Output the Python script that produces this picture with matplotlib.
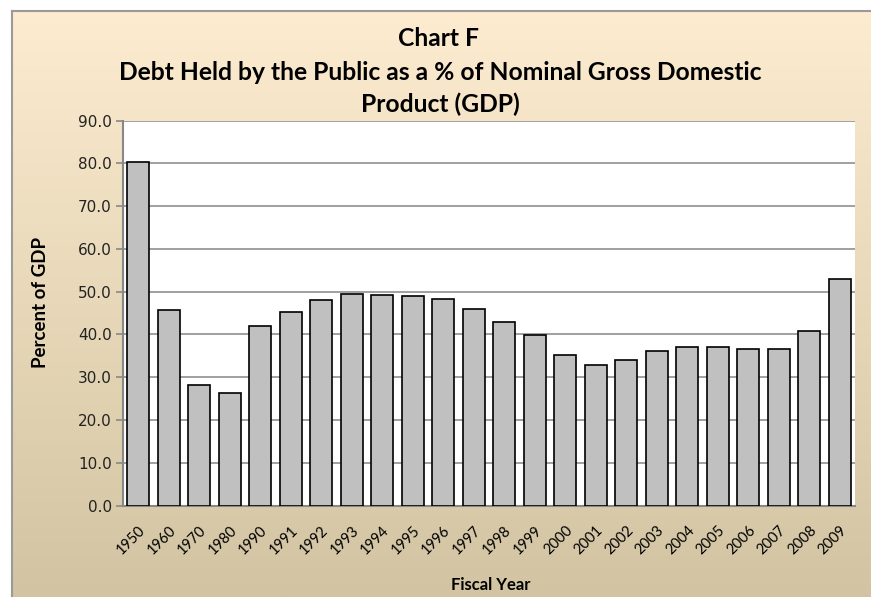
import numpy as np
import matplotlib
matplotlib.use("Agg")
import matplotlib.pyplot as plt
from matplotlib import font_manager

years = ["1950", "1960", "1970", "1980", "1990", "1991", "1992", "1993", "1994",
         "1995", "1996", "1997", "1998", "1999", "2000", "2001", "2002", "2003",
         "2004", "2005", "2006", "2007", "2008", "2009"]
debt_pct = [80.4, 45.7, 28.2, 26.2, 41.9, 45.3, 48.1, 49.5, 49.3,
            49.0, 48.3, 46.0, 43.0, 39.9, 35.1, 32.8, 34.1, 36.2,
            37.1, 37.1, 36.6, 36.6, 40.8, 53.0]
yticks = [0, 10, 20, 30, 40, 50, 60, 70, 80, 90]

names = {f.name for f in font_manager.fontManager.ttflist}
narrow = "Liberation Sans Narrow" if "Liberation Sans Narrow" in names else "Lato"

W, H = 871, 597
fig = plt.figure(figsize=(W / 100, H / 100), dpi=100)
fig.patch.set_facecolor("white")

# gradient chart-area background
bg = fig.add_axes([12 / W, 0, 1 - 12 / W, 1 - 11 / H], zorder=-10)
top_c = np.array([253, 236, 208]) / 255
bot_c = np.array([210, 196, 162]) / 255
t = np.linspace(0, 1, 256)[:, None]
grad = top_c * (1 - t[..., None]) + bot_c * t[..., None]
bg.imshow(grad, aspect="auto", extent=[0, 1, 0, 1])
bg.set_xlim(0, 1); bg.set_ylim(0, 1)
bg.set_xticks([]); bg.set_yticks([])
for s in ["top", "left"]:
    bg.spines[s].set_color("#9a9a9a"); bg.spines[s].set_linewidth(1.5)
for s in ["bottom", "right"]:
    bg.spines[s].set_visible(False)

ax = fig.add_axes([123 / W, 1 - 505.5 / H, (855 - 123) / W, (505.5 - 120.7) / H])
ax.set_facecolor("white")
x = np.arange(len(years))
ax.bar(x, debt_pct, width=0.71, color="#c0c0c0", edgecolor="black", linewidth=1.2, zorder=3)
ax.set_xlim(-0.5, len(years) - 0.5)
ax.set_ylim(0, 90)
ax.set_yticks(yticks)
ax.set_yticklabels([f"{v:.1f}" for v in yticks], fontsize=11, color="#222222", family="DejaVu Sans")
ax.yaxis.grid(True, color="#999999", linewidth=1.3, zorder=0)
ax.set_axisbelow(True)
ax.tick_params(axis="y", length=5, color="#888888", width=1.2, pad=3)
ax.set_xticks(x)
ax.set_xticklabels(years, rotation=45, ha="right", va="top", rotation_mode="anchor",
                   fontsize=10.5, family=narrow)
ax.tick_params(axis="x", length=0, pad=13)
for s in ["top", "right"]:
    ax.spines[s].set_visible(False)
ax.spines["left"].set_color("#888888"); ax.spines["left"].set_linewidth(1.5)
ax.spines["bottom"].set_color("#888888"); ax.spines["bottom"].set_linewidth(1.5)

fig.text(40 / W, 1 - 303 / H, "Percent of GDP", rotation=90, ha="center", va="center",
         fontsize=13.5, fontweight="bold", family=narrow)
fig.text(491 / W, 1 - 585 / H, "Fiscal Year", ha="center", va="center",
         fontsize=12, fontweight="bold", family=narrow)

fig.text(438 / W, 1 - 38 / H, "Chart F", ha="center", va="center",
         fontsize=17.7, fontweight="bold", family=narrow)
fig.text(440 / W, 1 - 72 / H, "Debt Held by the Public as a % of Nominal Gross Domestic",
         ha="center", va="center", fontsize=17.7, fontweight="bold", family=narrow)
fig.text(440 / W, 1 - 104 / H, "Product (GDP)", ha="center", va="center",
         fontsize=17.7, fontweight="bold", family=narrow)

fig.savefig("out.png", dpi=100)
